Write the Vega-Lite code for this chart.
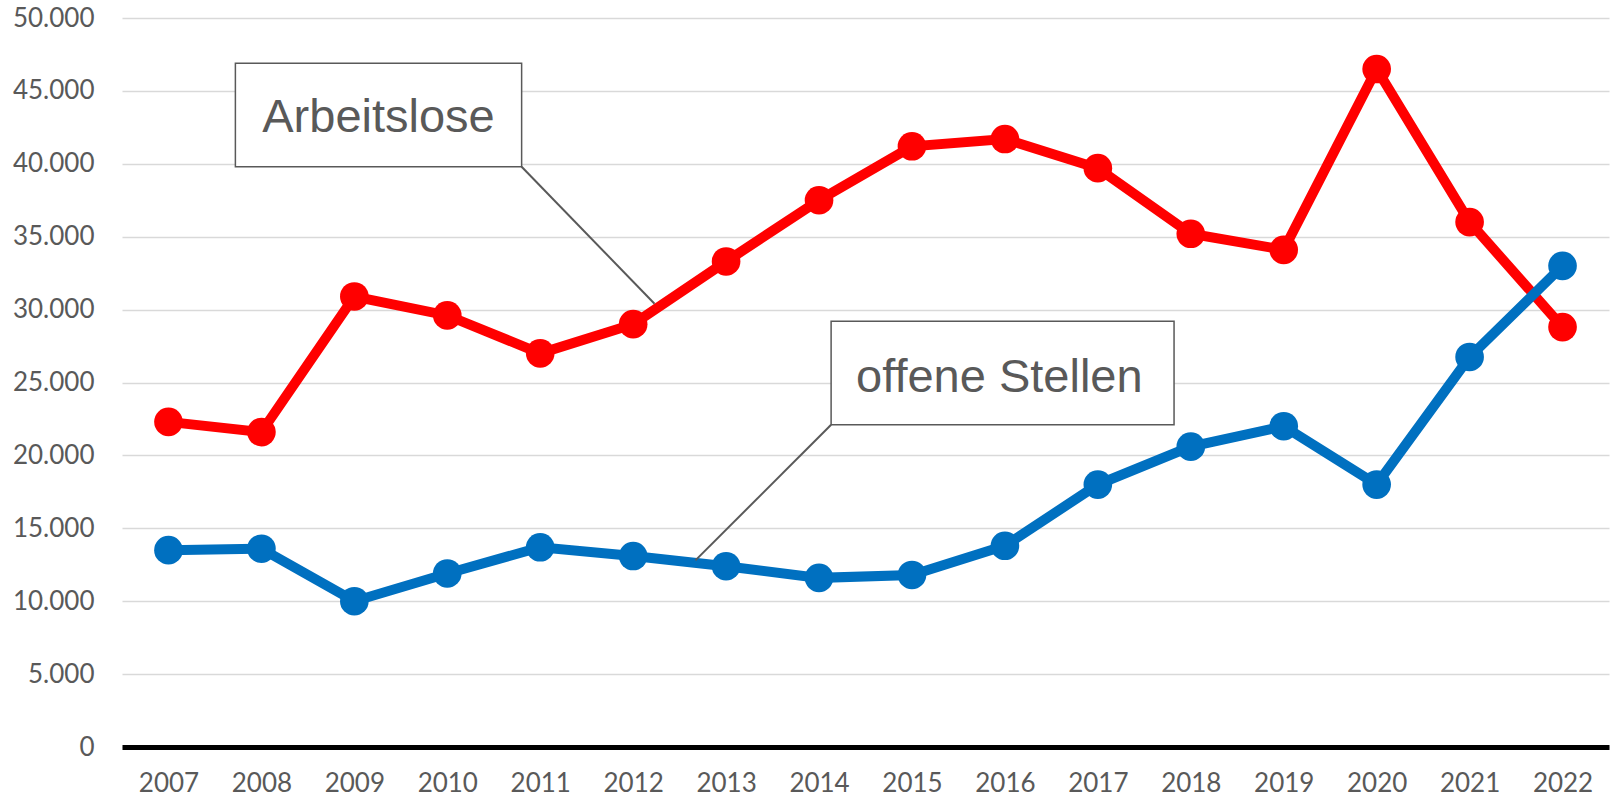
{
  "$schema": "https://vega.github.io/schema/vega-lite/v6.json",
  "width": 1487,
  "height": 729,
  "autosize": {"type": "none"},
  "padding": {"left": 122, "top": 18, "right": 5, "bottom": 52},
  "background": "white",
  "config": {"view": {"stroke": null}},
  "datasets": {
    "series": [
      {"year": 2007, "series": "Arbeitslose", "value": 22300},
      {"year": 2008, "series": "Arbeitslose", "value": 21600},
      {"year": 2009, "series": "Arbeitslose", "value": 30900},
      {"year": 2010, "series": "Arbeitslose", "value": 29600},
      {"year": 2011, "series": "Arbeitslose", "value": 27000},
      {"year": 2012, "series": "Arbeitslose", "value": 29000},
      {"year": 2013, "series": "Arbeitslose", "value": 33300},
      {"year": 2014, "series": "Arbeitslose", "value": 37500},
      {"year": 2015, "series": "Arbeitslose", "value": 41200},
      {"year": 2016, "series": "Arbeitslose", "value": 41700},
      {"year": 2017, "series": "Arbeitslose", "value": 39700},
      {"year": 2018, "series": "Arbeitslose", "value": 35200},
      {"year": 2019, "series": "Arbeitslose", "value": 34100},
      {"year": 2020, "series": "Arbeitslose", "value": 46500},
      {"year": 2021, "series": "Arbeitslose", "value": 36000},
      {"year": 2022, "series": "Arbeitslose", "value": 28800},
      {"year": 2007, "series": "offene Stellen", "value": 13500},
      {"year": 2008, "series": "offene Stellen", "value": 13600},
      {"year": 2009, "series": "offene Stellen", "value": 10000},
      {"year": 2010, "series": "offene Stellen", "value": 11900},
      {"year": 2011, "series": "offene Stellen", "value": 13700},
      {"year": 2012, "series": "offene Stellen", "value": 13100},
      {"year": 2013, "series": "offene Stellen", "value": 12400},
      {"year": 2014, "series": "offene Stellen", "value": 11600},
      {"year": 2015, "series": "offene Stellen", "value": 11800},
      {"year": 2016, "series": "offene Stellen", "value": 13800},
      {"year": 2017, "series": "offene Stellen", "value": 18000},
      {"year": 2018, "series": "offene Stellen", "value": 20600},
      {"year": 2019, "series": "offene Stellen", "value": 22000},
      {"year": 2020, "series": "offene Stellen", "value": 18000},
      {"year": 2021, "series": "offene Stellen", "value": 26750},
      {"year": 2022, "series": "offene Stellen", "value": 33000}
    ],
    "notes": [
      {"label": "Arbeitslose", "bx": 2007.72, "bx2": 2010.8, "by": 46900, "by2": 39800, "lx": 2010.8, "ly": 39800, "lx2": 2012.23, "ly2": 30400, "tx": 2009.26, "ty": 42200},
      {"label": "offene Stellen", "bx": 2014.13, "bx2": 2017.82, "by": 29200, "by2": 22100, "lx": 2014.13, "ly": 22100, "lx2": 2012.67, "ly2": 12800, "tx": 2015.94, "ty": 24370}
    ]
  },
  "layer": [
    {
      "data": {"name": "series"},
      "mark": {"type": "line", "strokeWidth": 10, "point": {"filled": true, "size": 820, "opacity": 1}},
      "encoding": {
        "x": {
          "field": "year", "type": "quantitative",
          "scale": {"domain": [2006.5, 2022.5], "nice": false, "zero": false},
          "axis": {
            "title": null, "values": [2007,2008,2009,2010,2011,2012,2013,2014,2015,2016,2017,2018,2019,2020,2021,2022],
            "format": "d", "grid": false, "ticks": false,
            "domainColor": "#000000", "domainWidth": 5,
            "labelFont": "Lato", "labelFontSize": 26, "labelColor": "#595959",
            "labelPadding": 23, "labelFlush": false, "labelOverlap": false
          }
        },
        "y": {
          "field": "value", "type": "quantitative",
          "scale": {"domain": [0, 50000], "nice": false},
          "axis": {
            "title": null, "values": [0,5000,10000,15000,20000,25000,30000,35000,40000,45000,50000],
            "labelExpr": "replace(format(datum.value, ','), ',', '.')",
            "domain": false, "ticks": false, "grid": true,
            "gridColor": "#d9d9d9", "gridWidth": 1.5,
            "labelFont": "Lato", "labelFontSize": 26, "labelColor": "#595959",
            "labelPadding": 28
          }
        },
        "color": {
          "field": "series", "type": "nominal",
          "scale": {"domain": ["Arbeitslose", "offene Stellen"], "range": ["#ff0000", "#0070c0"]},
          "legend": null
        },
        "order": {"field": "year", "type": "quantitative"}
      }
    },
    {
      "data": {"name": "notes"},
      "mark": {"type": "rule", "color": "#595959", "strokeWidth": 2},
      "encoding": {
        "x": {"field": "lx", "type": "quantitative"},
        "y": {"field": "ly", "type": "quantitative"},
        "x2": {"field": "lx2"},
        "y2": {"field": "ly2"}
      }
    },
    {
      "data": {"name": "notes"},
      "mark": {"type": "rect", "fill": "white", "stroke": "#595959", "strokeWidth": 1.5},
      "encoding": {
        "x": {"field": "bx", "type": "quantitative"},
        "x2": {"field": "bx2"},
        "y": {"field": "by", "type": "quantitative"},
        "y2": {"field": "by2"}
      }
    },
    {
      "data": {"name": "notes"},
      "mark": {"type": "text", "font": "Liberation Sans", "fontSize": 47, "color": "#595959", "align": "center", "baseline": "alphabetic"},
      "encoding": {
        "x": {"field": "tx", "type": "quantitative"},
        "y": {"field": "ty", "type": "quantitative"},
        "text": {"field": "label"}
      }
    }
  ]
}
